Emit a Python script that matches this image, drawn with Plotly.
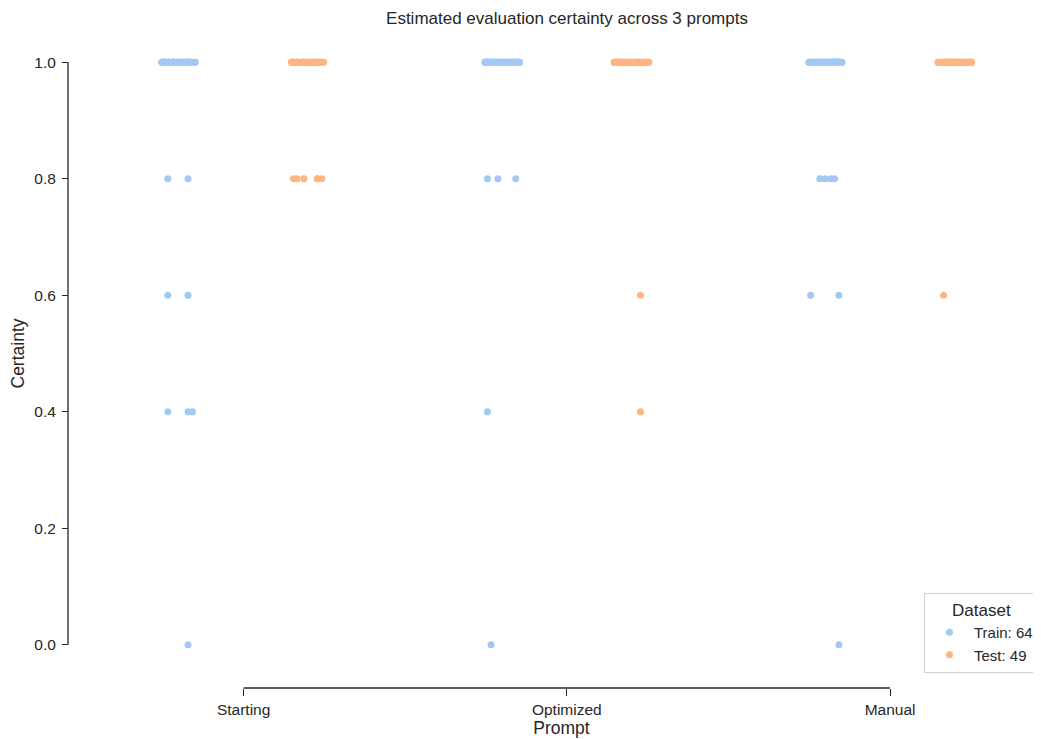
import plotly.graph_objects as go

# ---- data ----
prompts = ["Starting", "Optimized", "Manual"]
levels = [0.0, 0.4, 0.6, 0.8, 1.0]
# number of samples at each certainty level (same order as `levels`)
train_starting = [1, 3, 2, 2, 56]
train_optimized = [1, 1, 0, 3, 59]
train_manual = [1, 0, 2, 4, 57]
test_starting = [0, 0, 0, 6, 43]
test_optimized = [0, 1, 1, 0, 47]
test_manual = [0, 0, 1, 0, 48]
train_label = "Train: 64"
test_label = "Test: 49"

train_counts = [train_starting, train_optimized, train_manual]
test_counts = [test_starting, test_optimized, test_manual]

BLUE = "#a1c9f4"
ORANGE = "#ffb482"
DARK = "#262626"
FONT = "Liberation Sans, Arial, sans-serif"

# page offset of the figure (default body margin of the html page)
OFF = 8

fig = go.Figure()
for name, counts, color in [("Train", train_counts, BLUE), ("Test", test_counts, ORANGE)]:
    # one strip per certainty level so every strip gets the full jitter width
    for li, lv in enumerate(levels):
        xs, ys = [], []
        for p, c in zip(prompts, counts):
            xs += [p] * c[li]
            ys += [lv] * c[li]
        if not xs:
            continue
        fig.add_trace(go.Box(
            x=xs, y=ys, name=name, boxpoints="all", jitter=0.27, pointpos=0,
            offsetgroup=name, alignmentgroup="all",
            fillcolor="rgba(0,0,0,0)", line=dict(color="rgba(0,0,0,0)", width=0),
            whiskerwidth=0, marker=dict(color=color, size=7, opacity=1),
            showlegend=False, hoveron="points",
        ))

for label, color in [(train_label, BLUE), (test_label, ORANGE)]:
    fig.add_trace(go.Scatter(x=[None], y=[None], mode="markers", name=label,
                             marker=dict(color=color, size=7)))

W, H = 1041 - OFF, 739 - OFF
ml, mt = 68 - OFF, 33 - OFF
mb = H - (688 - OFF)
plot_w = W - ml
plot_h = H - mt - mb

fig.update_layout(
    width=W, height=H,
    margin=dict(l=ml, r=0, t=mt, b=mb),
    paper_bgcolor="white", plot_bgcolor="white",
    boxmode="group", boxgap=0.2, boxgroupgap=0,
    font=dict(family=FONT, color=DARK, size=15),
    title=dict(text="Estimated evaluation certainty across 3 prompts",
               x=(567 - OFF) / W, xref="container", xanchor="center",
               y=1 - (18 - OFF) / H, yref="container", yanchor="middle",
               font=dict(size=17, color=DARK)),
    xaxis=dict(type="category", categoryorder="array", categoryarray=prompts,
               range=[-0.5, 2.467], domain=[14 / plot_w, 1],
               anchor="free", position=0, showline=False, showgrid=False,
               zeroline=False, ticks="outside", ticklen=7, tickwidth=1.3,
               tickcolor=DARK, tickfont=dict(size=15.5, color=DARK),
               title=dict(text="Prompt", font=dict(size=17.5, color=DARK), standoff=5)),
    yaxis=dict(range=[-0.05, 1.05], domain=[14 / plot_h, 1],
               anchor="free", position=0, showline=False, showgrid=False,
               zeroline=False, ticks="outside", ticklen=6, tickwidth=1.3,
               tickcolor=DARK, tickvals=[0, 0.2, 0.4, 0.6, 0.8, 1.0],
               tickformat=".1f", tickfont=dict(size=15.5, color=DARK),
               ticklabelstandoff=3,
               title=dict(text="Certainty", font=dict(size=17.5, color=DARK), standoff=10)),
    legend=dict(x=(924 - 68) / plot_w, y=(688 - 593) / plot_h,
                xanchor="left", yanchor="top", itemwidth=39,
                bgcolor="white", bordercolor="#d0d0d0", borderwidth=1,
                font=dict(size=15, color=DARK), tracegroupgap=0,
                title=dict(text="Dataset", side="top center", font=dict(size=17, color=DARK))),
    shapes=[
        dict(type="line", xref="x", yref="paper", x0=0, x1=2, y0=0, y1=0,
             line=dict(color=DARK, width=1.3)),
        dict(type="line", xref="paper", yref="y", x0=0, x1=0, y0=0, y1=1,
             line=dict(color=DARK, width=1.3)),
    ],
)

fig.write_html("out.html")
